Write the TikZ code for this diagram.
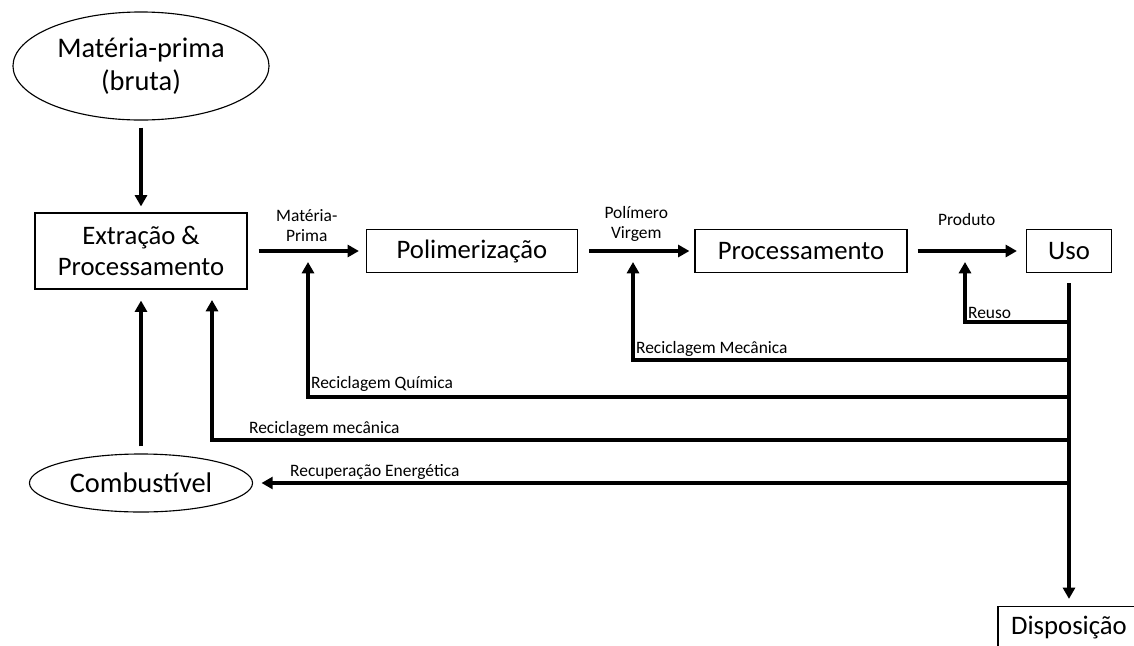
\documentclass[tikz,border=0pt]{standalone}
\usepackage{fontspec}
\setmainfont{Carlito}
\usetikzlibrary{shapes.geometric}
\usetikzlibrary{positioning}
\usetikzlibrary{arrows.meta}
\tikzset{
  caixa/.style={draw, line width=0.8pt, inner sep=0pt, align=center, font=\fontsize{19}{22.5}\selectfont},
  bolha/.style={caixa, ellipse, font=\fontsize{20.2}{23.6}\selectfont},
  fluxo/.style={line width=2.4pt, -{Triangle[length=8pt,width=8.5pt]}},
  rotulo/.style={font=\fontsize{12.4}{14.2}\selectfont, align=center, inner sep=1pt}
}

\begin{document}
\begin{tikzpicture}[x=0.025cm, y=-0.025cm]
\clip (0,0) rectangle (1134,646);
\node[bolha, minimum width=6.4cm, minimum height=2.7cm] (mp) at (141,66) {Matéria-prima\\(bruta)};
\node[caixa, minimum width=5.3cm, minimum height=1.9cm] (ext) at (141,251) {Extração \&\\Processamento};
\node[caixa, minimum width=5.275cm, minimum height=1.075cm] (pol) at (472,251) {Polimerização};
\node[caixa, minimum width=5.3cm, minimum height=1.075cm] (proc) at (801,251) {Processamento};
\node[caixa, minimum width=2.125cm, minimum height=1.075cm] (uso) at (1069,251) {Uso};
\node[bolha, minimum width=5.575cm, minimum height=1.45cm] (comb) at (141,483) {Combustível};
\node[caixa, minimum width=3.55cm, minimum height=1.075cm] (disp) at (1069,628) {Disposição};

\coordinate (b1) at (1069,322);
\coordinate (b2) at (1069,360);
\coordinate (b3) at (1069,397);
\coordinate (b4) at (1069,440);
\coordinate (b5) at (1069,483);
\coordinate (t1) at (965,251);
\coordinate (t2) at (633,251);
\coordinate (t3) at (308,251);
\coordinate (t4) at (212,289);

\draw[fluxo, shorten <=0.175cm, shorten >=0.15cm] (mp) -- (ext);
\draw[fluxo, shorten <=0.275cm, shorten >=0.175cm] (ext) -- node[rotulo, above=0.15cm] (lmp) {Matéria-\\Prima} (pol);
\draw[fluxo, shorten <=0.275cm, shorten >=0.125cm] (pol) -- node[rotulo, above=0.15cm] (lpv) {Polímero\\Virgem} (proc);
\draw[fluxo, shorten <=0.25cm, shorten >=0.225cm] (proc) -- node[rotulo, above=0.55cm] (lpr) {Produto} (uso);
\draw[fluxo, shorten <=0.26cm, shorten >=0.175cm] (uso) -- (disp);

\draw[fluxo, shorten >=0.275cm] (b1) -| node[rotulo, pos=0.5, anchor=south west] (lre) {Reuso} (t1);
\draw[fluxo, shorten >=0.275cm] (b2) -| node[rotulo, pos=0.5, anchor=south west] (lrm) {Reciclagem Mecânica} (t2);
\draw[fluxo, shorten >=0.275cm] (b3) -| node[rotulo, pos=0.5, anchor=south west, yshift=0.05cm] (lrq) {Reciclagem Química} (t3);
\draw[fluxo, shorten >=0.275cm] (b4) -| node[rotulo, pos=0.5, anchor=south west, xshift=0.85cm] (lrc) {Reciclagem mecânica} (t4);
\draw[fluxo, shorten >=0.21cm] (b5) -- node[rotulo, pos=1, anchor=south west, xshift=0.85cm] (lrg) {Recuperação Energética} (b5 -| comb.east);
\draw[fluxo, shorten <=0.175cm, shorten >=0.275cm] (comb) -- (ext);
\end{tikzpicture}
\end{document}
